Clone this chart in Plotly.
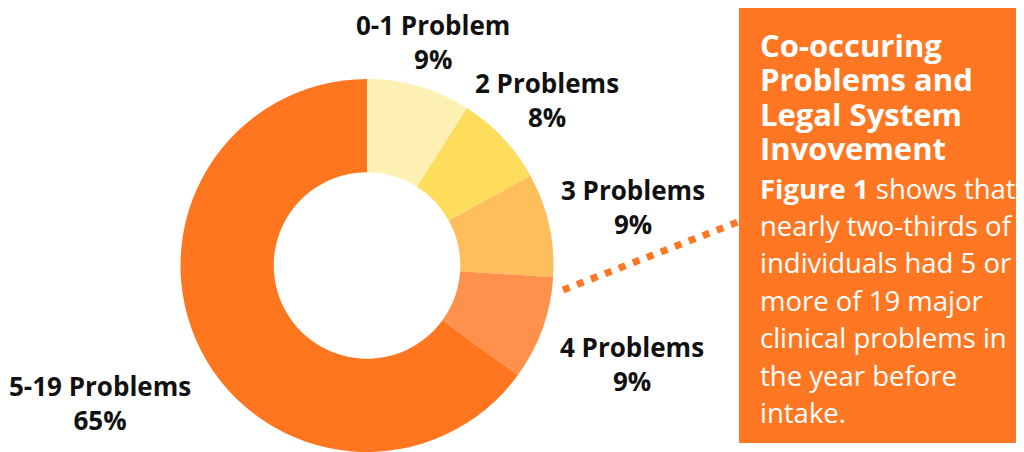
import plotly.graph_objects as go

categories = ["0-1 Problem", "2 Problems", "3 Problems", "4 Problems", "5-19 Problems"]
shares = [9, 8, 9, 9, 65]
slice_colors = ["#FFF0B4", "#FFDD5C", "#FFBE5C", "#FF914D", "#FF761F"]

title_lines = ["Co-occuring", "Problems and", "Legal System", "Invovement"]
body_lines = ["<b>Figure 1</b> shows that", "nearly two-thirds of", "individuals had 5 or",
              "more of 19 major", "clinical problems in", "the year before", "intake."]

# page body has an 8px margin: the figure is drawn at offset (8, 8)
OFF = 8
W, H = 1024 - OFF, 452 - OFF
FONT = "Open Sans"
ORANGE = "#FF7722"


def px_x(px):
    return (px - OFF) / W


def px_y(py):
    return min(1.0, max(0.0, 1 - (py - OFF) / H))


fig = go.Figure(go.Pie(
    labels=categories, values=shares, sort=False, direction="clockwise",
    hole=0.5, textinfo="none", hoverinfo="label+percent",
    marker=dict(colors=slice_colors, line=dict(width=0)),
    domain=dict(x=[px_x(180), px_x(554)], y=[0, px_y(79)]),
    showlegend=False,
))

# label positions (px, centre of the two-line label)
label_pos = [(433, 42), (547, 100), (633, 207), (632, 364), (100, 403)]
annotations = []
for cat, val, (px, py) in zip(categories, shares, label_pos):
    annotations.append(dict(
        x=px_x(px), y=px_y(py), xref="paper", yref="paper",
        text=f"<b>{cat}<br>{val}%</b>", showarrow=False,
        font=dict(family=FONT, size=26, color="#111111"),
        align="center", xanchor="center", yanchor="middle",
    ))

for i, line in enumerate(title_lines):
    y = 45 + i * 34.5
    annotations.append(dict(
        x=px_x(758), y=px_y(y), xref="paper", yref="paper", text=f"<b>{line}</b>",
        showarrow=False, font=dict(family=FONT, size=31, color="white"),
        xanchor="left", yanchor="middle", align="left",
    ))
for i, line in enumerate(body_lines):
    y = 188 + i * 37.4
    annotations.append(dict(
        x=px_x(758), y=px_y(y), xref="paper", yref="paper", text=line,
        showarrow=False, font=dict(family=FONT, size=27.5, color="white"),
        xanchor="left", yanchor="middle", align="left",
    ))

shapes = [
    dict(type="rect", xref="paper", yref="paper", x0=px_x(739), x1=1.0,
         y0=px_y(443), y1=1.0, fillcolor=ORANGE, line=dict(width=0), layer="below"),
    dict(type="line", xref="paper", yref="paper", x0=px_x(563), y0=px_y(290),
         x1=px_x(738), y1=px_y(222), line=dict(color=ORANGE, width=7, dash="7px,8px")),
]

fig.update_layout(
    width=W, height=H, margin=dict(l=0, r=0, t=0, b=0),
    paper_bgcolor="white", plot_bgcolor="white",
    annotations=annotations, shapes=shapes,
)
fig.write_html("out.html")
